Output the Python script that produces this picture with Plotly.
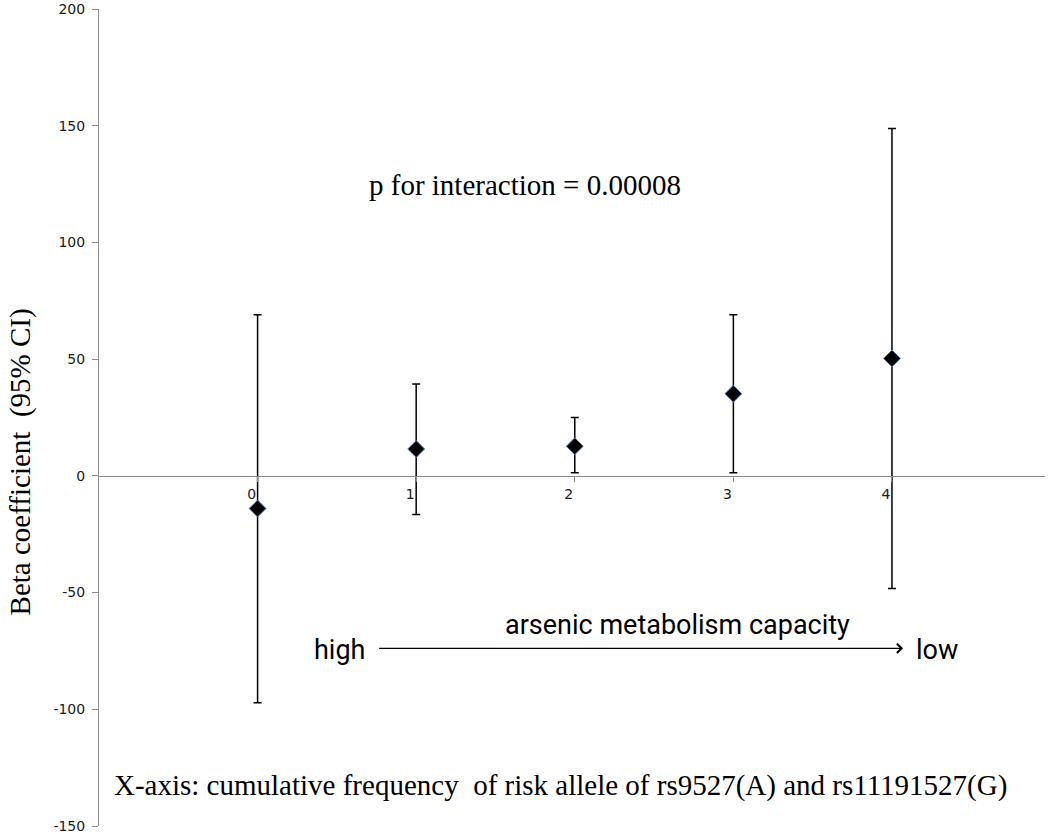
import plotly.graph_objects as go

categories = [0, 1, 2, 3, 4]
tick_labels = ["0", "1", "2", "3", "4"]
beta = [-14, 11.5, 12.7, 35.2, 50.3]
ci_upper = [69, 39.3, 25, 69, 148.8]
ci_lower = [-97.2, -16.6, 1.3, 1.3, -48.3]
y_tickvals = [-150, -100, -50, 0, 50, 100, 150, 200]
y_ticktext = ["-150", "-100", "-50", "0", "50", "100", "150", "200"]

err_plus = [u - b for u, b in zip(ci_upper, beta)]
err_minus = [b - l for b, l in zip(beta, ci_lower)]

fig = go.Figure()
fig.add_trace(go.Scatter(
    x=categories, y=beta, mode="markers",
    marker=dict(symbol="diamond", size=13, color="black",
                line=dict(color="#4f81bd", width=1)),
    error_y=dict(type="data", symmetric=False, array=err_plus, arrayminus=err_minus,
                 color="black", thickness=1.5, width=4),
    showlegend=False,
))

serif = "Liberation Serif, Times New Roman, serif"
sans = "Roboto, Liberation Sans, sans-serif"
tickfont = dict(family="DejaVu Sans, sans-serif", size=14, color="#1a1a1a")

y_min, y_max = -150, 200

fig.update_layout(
    width=1050, height=836,
    paper_bgcolor="white", plot_bgcolor="white",
    margin=dict(l=99, r=5, t=9, b=10),
    xaxis=dict(range=[-1.0, 4.965], tickmode="array", tickvals=categories, ticktext=tick_labels,
               showgrid=False, zeroline=False, showline=True, linecolor="#8a8a8a", linewidth=1,
               anchor="free", position=(0 - y_min) / (y_max - y_min), automargin=False,
               ticks="outside", ticklen=5, tickcolor="#8a8a8a", ticklabelshift=-6,
               tickfont=tickfont),
    yaxis=dict(range=[y_min, y_max], tickmode="array", tickvals=y_tickvals, ticktext=y_ticktext,
               showgrid=False, zeroline=False, automargin=False, ticklabeloverflow="allow",
               showline=True, linecolor="#8a8a8a", linewidth=1,
               ticks="outside", ticklen=6, tickcolor="#8a8a8a", ticklabelstandoff=4,
               tickfont=tickfont),
    annotations=[
        dict(text="Beta coefficient  (95% CI)", xref="paper", yref="paper", x=-0.0835, y=0.445,
             textangle=-90, showarrow=False, font=dict(family=serif, size=29, color="black"),
             xanchor="center", yanchor="middle"),
        dict(text="p for interaction = 0.00008", x=1.685, y=124.4, showarrow=False,
             font=dict(family=serif, size=29, color="black")),
        dict(text="X-axis: cumulative frequency  of risk allele of rs9527(A) and rs11191527(G)",
             x=1.91, y=-132.5, showarrow=False, font=dict(family=serif, size=29, color="black")),
        dict(text="arsenic metabolism capacity", x=2.65, y=-64, showarrow=False,
             font=dict(family=sans, size=27, color="black")),
        dict(text="high", x=0.517, y=-74.5, showarrow=False,
             font=dict(family=sans, size=27, color="black")),
        dict(text="low", x=4.284, y=-74.5, showarrow=False,
             font=dict(family=sans, size=27, color="black")),
        dict(text="", x=4.07, y=-73.9, ax=0.757, ay=-73.9, axref="x", ayref="y",
             showarrow=True, arrowhead=4, arrowsize=1.4, arrowwidth=1.3, arrowcolor="black"),
    ],
)

fig.write_html("out.html", config={"displayModeBar": False},
               post_script="document.body.style.margin='0';")
